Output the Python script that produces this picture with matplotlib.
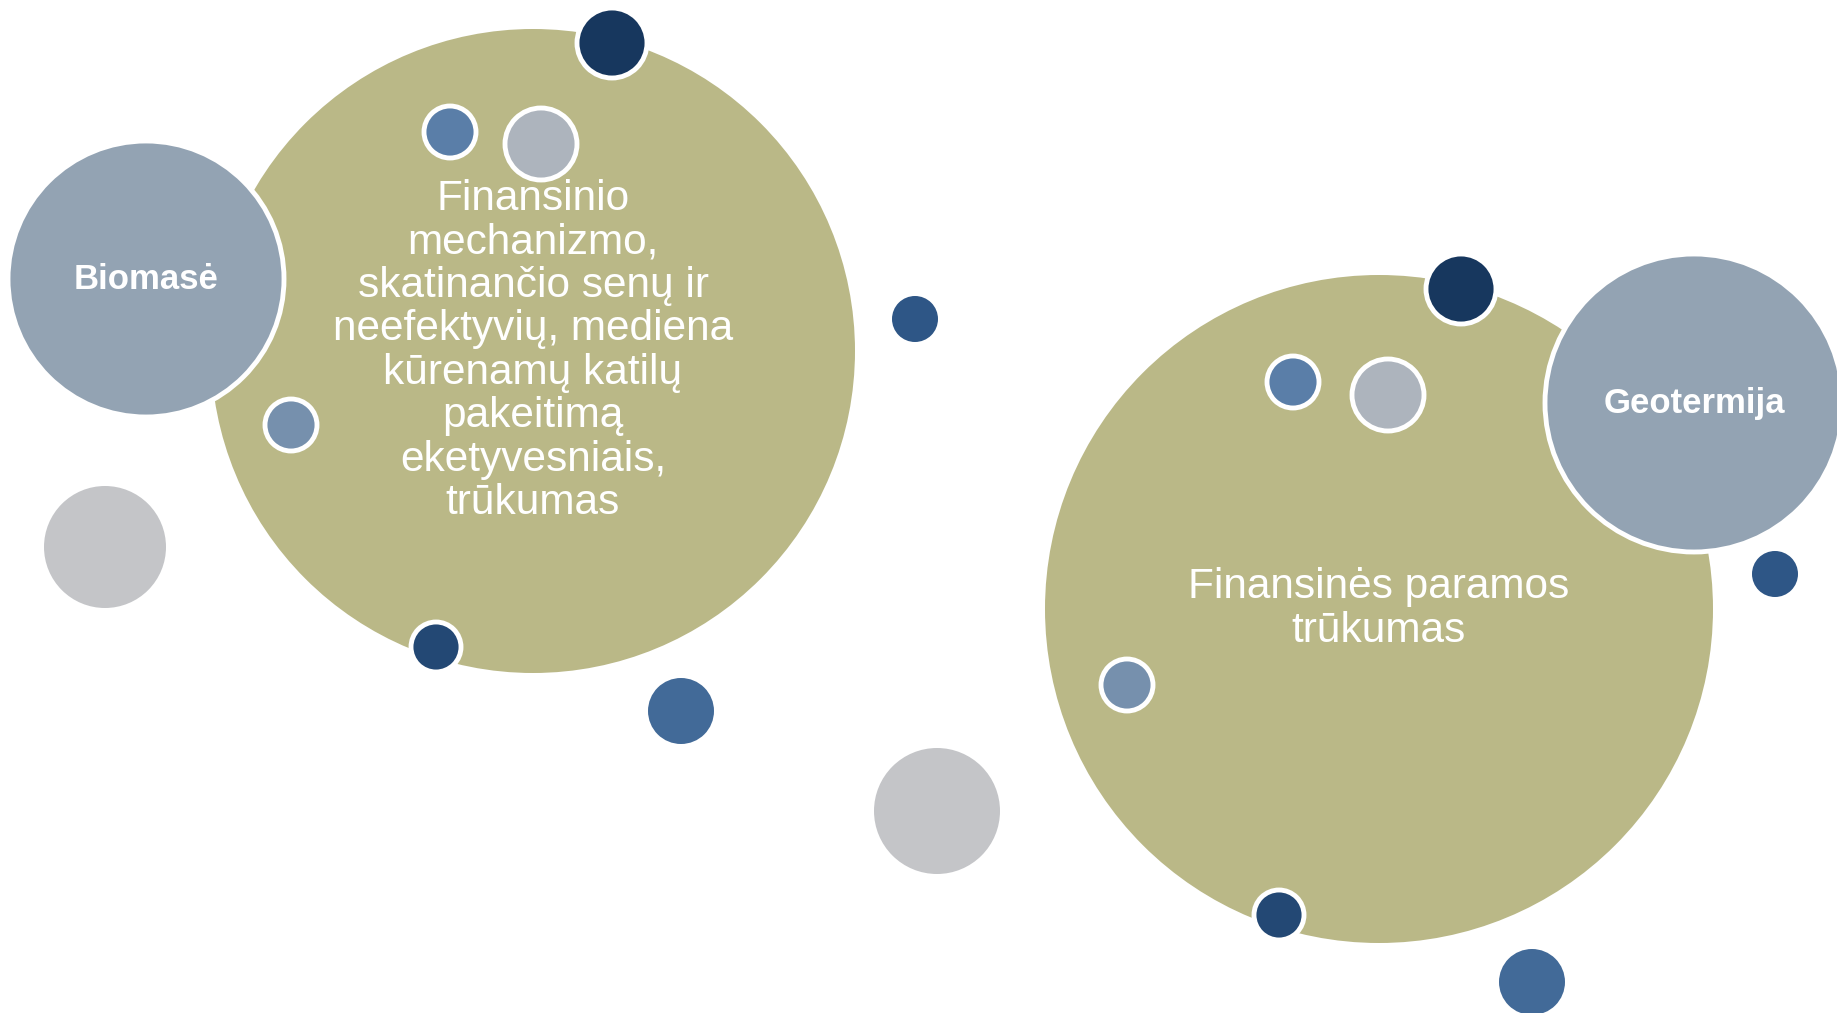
import matplotlib.pyplot as plt
from matplotlib.patches import Circle

plt.rcParams['font.family'] = ['Liberation Sans', 'DejaVu Sans']

# big topic circles (pixel coords, y down)
big_x = [533, 1379]
big_y = [351, 609]
big_r = [322, 334]
big_text = ['Finansinio\nmechanizmo,\nskatinančio senų ir\nneefektyvių, mediena\nkūrenamų katilų\npakeitimą\neketyvesniais,\ntrūkumas',
            'Finansinės paramos\ntrūkumas']

# label circles
lab_x = [146, 1694]
lab_y = [279, 403]
lab_r = [138, 149]
lab_text = ['Biomasė', 'Geotermija']

# small decorative circles: x, y, r, colour, white border?
dot_x = [612, 450, 541, 291, 436, 915, 105, 681, 937,
         1461, 1293, 1388, 1127, 1279, 1775, 1532]
dot_y = [43, 132, 144, 425, 647, 319, 547, 711, 811,
         289, 382, 395, 685, 915, 574, 982]
dot_r = [35, 26, 36, 26, 25, 23, 61, 33, 63,
         35, 26, 36, 26, 25, 23, 33]
dot_c = ['#17375e', '#5a7ea8', '#adb4bd', '#7690ad', '#234874', '#2e5686', '#c4c5c8', '#426a98', '#c4c5c8',
         '#17375e', '#5a7ea8', '#adb4bd', '#7690ad', '#234874', '#2e5686', '#426a98']
dot_edge = [True, True, True, True, True, False, False, False, False,
            True, True, True, True, True, False, False]

fig = plt.figure(figsize=(18.37, 10.13), dpi=100)
ax = fig.add_axes([0, 0, 1, 1])
ax.set_xlim(0, 1837)
ax.set_ylim(1013, 0)
ax.set_aspect('equal')
ax.axis('off')

for x, y, r, t in zip(big_x, big_y, big_r, big_text):
    ax.add_patch(Circle((x, y), r, facecolor='#bab887', edgecolor='none', zorder=1))
    ax.text(x, y, t, color='white', fontsize=30.5, ha='center', va='center',
            linespacing=1.11, zorder=5)

for x, y, r, t in zip(lab_x, lab_y, lab_r, lab_text):
    ax.add_patch(Circle((x, y), r, facecolor='#93a3b3', edgecolor='white', linewidth=3.5, zorder=2))
    ax.text(x, y, t, color='white', fontsize=25, fontweight='bold', ha='center', va='center', zorder=5)

for x, y, r, c, e in zip(dot_x, dot_y, dot_r, dot_c, dot_edge):
    ax.add_patch(Circle((x, y), r, facecolor=c, edgecolor='white' if e else 'none',
                        linewidth=3.5 if e else 0, zorder=3))

fig.savefig('out.png', dpi=100, facecolor='white')
